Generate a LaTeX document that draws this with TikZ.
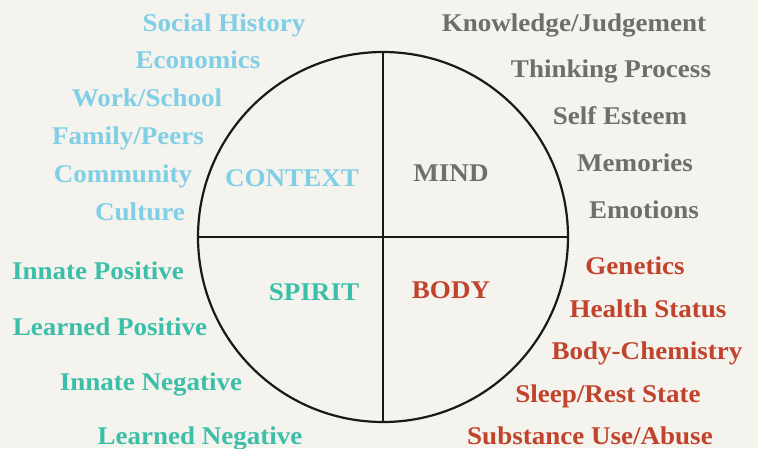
\documentclass[tikz,border=0pt]{standalone}
\usepackage{fontspec}
\setmainfont[FakeStretch=1.06]{Liberation Serif}
\definecolor{paper}{HTML}{F4F3EE}
\definecolor{ctxblue}{HTML}{80CFE6}
\definecolor{mindgray}{HTML}{6E6E6E}
\definecolor{spiritteal}{HTML}{3CBFA9}
\definecolor{bodyred}{HTML}{C1432C}
\begin{document}
\begin{tikzpicture}[x=1pt,y=-1pt]
		\tikzstyle{label}=[font=\fontsize{25.5}{28}\selectfont\bfseries,anchor=base,inner sep=0pt]
		\tikzstyle{ctxlabel}=[label,text=ctxblue]
		\tikzstyle{mindlabel}=[label,text=mindgray]
		\tikzstyle{spiritlabel}=[label,text=spiritteal]
		\tikzstyle{bodylabel}=[label,text=bodyred]
		\tikzstyle{edge}=[draw=black!90,line width=2.2pt]

		\fill[paper] (0,0) rectangle (758,448);
		\useasboundingbox (0,0) rectangle (758,448);

		\node [circle,edge,minimum size=370,inner sep=0pt,outer sep=0pt] (wheel) at (383,237) {};
		\path[edge] (wheel.north) -- (wheel.south);
		\path[edge] (wheel.west) -- (wheel.east);

		% quadrant titles
		\node [ctxlabel] (context) at (292,186) {CONTEXT};
		\node [mindlabel] (mind) at (451,181) {MIND};
		\node [spiritlabel] (spirit) at (314,300) {SPIRIT};
		\node [bodylabel] (body) at (451,298) {BODY};

		% context
		\node [ctxlabel] (c1) at (224,31) {Social History};
		\node [ctxlabel] (c2) at (198,68) {Economics};
		\node [ctxlabel] (c3) at (147,106) {Work/School};
		\node [ctxlabel] (c4) at (128,144) {Family/Peers};
		\node [ctxlabel] (c5) at (123,182) {Community};
		\node [ctxlabel] (c6) at (140,220) {Culture};

		% mind
		\node [mindlabel] (m1) at (574,31) {Knowledge/Judgement};
		\node [mindlabel] (m2) at (611,77) {Thinking Process};
		\node [mindlabel] (m3) at (620,124) {Self Esteem};
		\node [mindlabel] (m4) at (635,171) {Memories};
		\node [mindlabel] (m5) at (644,218) {Emotions};

		% spirit
		\node [spiritlabel] (s1) at (98,279) {Innate Positive};
		\node [spiritlabel] (s2) at (110,335) {Learned Positive};
		\node [spiritlabel] (s3) at (151,390) {Innate Negative};
		\node [spiritlabel] (s4) at (200,444) {Learned Negative};

		% body
		\node [bodylabel] (b1) at (635,274) {Genetics};
		\node [bodylabel] (b2) at (648,317) {Health Status};
		\node [bodylabel] (b3) at (647,359) {Body-Chemistry};
		\node [bodylabel] (b4) at (608,402) {Sleep/Rest State};
		\node [bodylabel] (b5) at (590,444) {Substance Use/Abuse};

	\end{tikzpicture}
\end{document}
